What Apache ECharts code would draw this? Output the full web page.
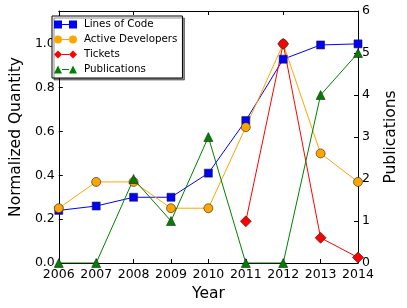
<!DOCTYPE html>
<html>
<head>
<meta charset="utf-8">
<script src="https://cdn.jsdelivr.net/npm/echarts@6/dist/echarts.min.js"></script>
<style>html,body{margin:0;padding:0;background:#fff;}#c{width:407px;height:308px;}</style>
</head>
<body>
<div id="c"></div>
<script>
var years = ['2006','2007','2008','2009','2010','2011','2012','2013','2014'];
var linesOfCode = [0.24, 0.26, 0.30, 0.30, 0.41, 0.65, 0.93, 0.995, 1.0];
var activeDevelopers = [0.25, 0.37, 0.37, 0.25, 0.25, 0.62, 1.0, 0.50, 0.37];
var tickets = [null, null, null, null, null, 0.19, 1.0, 0.115, 0.025];
var publications = [0, 0, 2, 1, 3, 0, 0, 4, 5];

var FONT = 'DejaVu Sans';
var chart = echarts.init(document.getElementById('c'), null, {renderer: 'canvas'});

function mkSeries(name, data, color, symbol, size, yIdx) {
  return {
    name: name, type: 'line', data: data, yAxisIndex: yIdx, xAxisIndex: 0,
    symbol: symbol, symbolSize: size, showAllSymbol: true,
    connectNulls: false, clip: true, animation: false,
    lineStyle: {color: color, width: 1},
    itemStyle: {color: color, borderColor: '#222', borderWidth: 0.6},
    emphasis: {disabled: true}
  };
}

var line = ' M8,3.5h7v1h-7z';
var option = {
  animation: false,
  textStyle: {fontFamily: FONT},
  grid: {left: 46, right: 35, top: 11, bottom: 45, containLabel: false},
  legend: {
    orient: 'vertical', left: 52, top: 16,
    padding: [1, 5, 1, 2],
    itemWidth: 23, itemHeight: 8, itemGap: 0,
    backgroundColor: '#fff', borderColor: '#000', borderWidth: 1, borderRadius: 0,
    shadowColor: 'rgba(0,0,0,0.45)', shadowOffsetX: 2, shadowOffsetY: 2, shadowBlur: 0,
    textStyle: {fontFamily: FONT, fontSize: 10.3, color: '#000', lineHeight: 15, padding: [0,0,0,2]},
    itemStyle: {borderWidth: 0},
    selectedMode: false,
    data: [
      {name: 'Lines of Code', icon: 'path://M0,0h8v8h-8z' + line + ' M15,0h8v8h-8z'},
      {name: 'Active Developers', icon: 'path://M0,4a4,4 0 1,0 8,0a4,4 0 1,0 -8,0z' + line + ' M15,4a4,4 0 1,0 8,0a4,4 0 1,0 -8,0z'},
      {name: 'Tickets', icon: 'path://M4,0L8,4L4,8L0,4z' + line + ' M19,0L23,4L19,8L15,4z'},
      {name: 'Publications', icon: 'path://M4,0L8,8L0,8z' + line + ' M19,0L23,8L15,8z'}
    ]
  },
  xAxis: [{
    type: 'category', data: years, boundaryGap: false, position: 'bottom',
    name: 'Year', nameLocation: 'middle', nameGap: 21,
    nameTextStyle: {fontFamily: FONT, fontSize: 15.5, color: '#000'},
    axisLine: {show: true, onZero: false, lineStyle: {color: '#000', width: 1}},
    axisTick: {show: true, inside: true, length: 4, alignWithLabel: true, lineStyle: {color: '#000'}},
    axisLabel: {fontFamily: FONT, fontSize: 12.5, color: '#000', margin: 5, interval: 0},
    splitLine: {show: false}
  }, {
    type: 'category', data: years, boundaryGap: false, position: 'top',
    axisLine: {show: true, onZero: false, lineStyle: {color: '#000', width: 1}},
    axisTick: {show: true, inside: true, length: 4, lineStyle: {color: '#000'}},
    axisLabel: {show: false}, splitLine: {show: false}
  }],
  yAxis: [{
    type: 'value', min: 0, max: 1.15, interval: 0.2, position: 'left',
    name: 'Normalized Quantity', nameLocation: 'middle', nameGap: 30,
    nameTextStyle: {fontFamily: FONT, fontSize: 15.5, color: '#000'},
    axisLine: {show: true, lineStyle: {color: '#000', width: 1}},
    axisTick: {show: true, inside: true, length: 4, lineStyle: {color: '#000'}},
    axisLabel: {fontFamily: FONT, fontSize: 12.5, color: '#000', margin: 4, showMaxLabel: false,
      formatter: function (v) { return v.toFixed(1); }},
    splitLine: {show: false}
  }, {
    type: 'value', min: 0, max: 6, interval: 1, position: 'right',
    name: 'Publications', nameLocation: 'middle', nameGap: 25, nameRotate: 90,
    nameTextStyle: {fontFamily: FONT, fontSize: 15.5, color: '#000'},
    axisLine: {show: true, lineStyle: {color: '#000', width: 1}},
    axisTick: {show: true, inside: true, length: 4, lineStyle: {color: '#000'}},
    axisLabel: {fontFamily: FONT, fontSize: 12.5, color: '#000', margin: 4},
    splitLine: {show: false}
  }],
  series: [
    mkSeries('Lines of Code', linesOfCode, '#0000ff', 'rect', 8, 0),
    mkSeries('Active Developers', activeDevelopers, '#ffa500', 'circle', 9, 0),
    mkSeries('Tickets', tickets, '#ff0000', 'diamond', 11, 0),
    mkSeries('Publications', publications, '#008000', 'triangle', 9, 1)
  ]
};
chart.setOption(option);
</script>
</body>
</html>
